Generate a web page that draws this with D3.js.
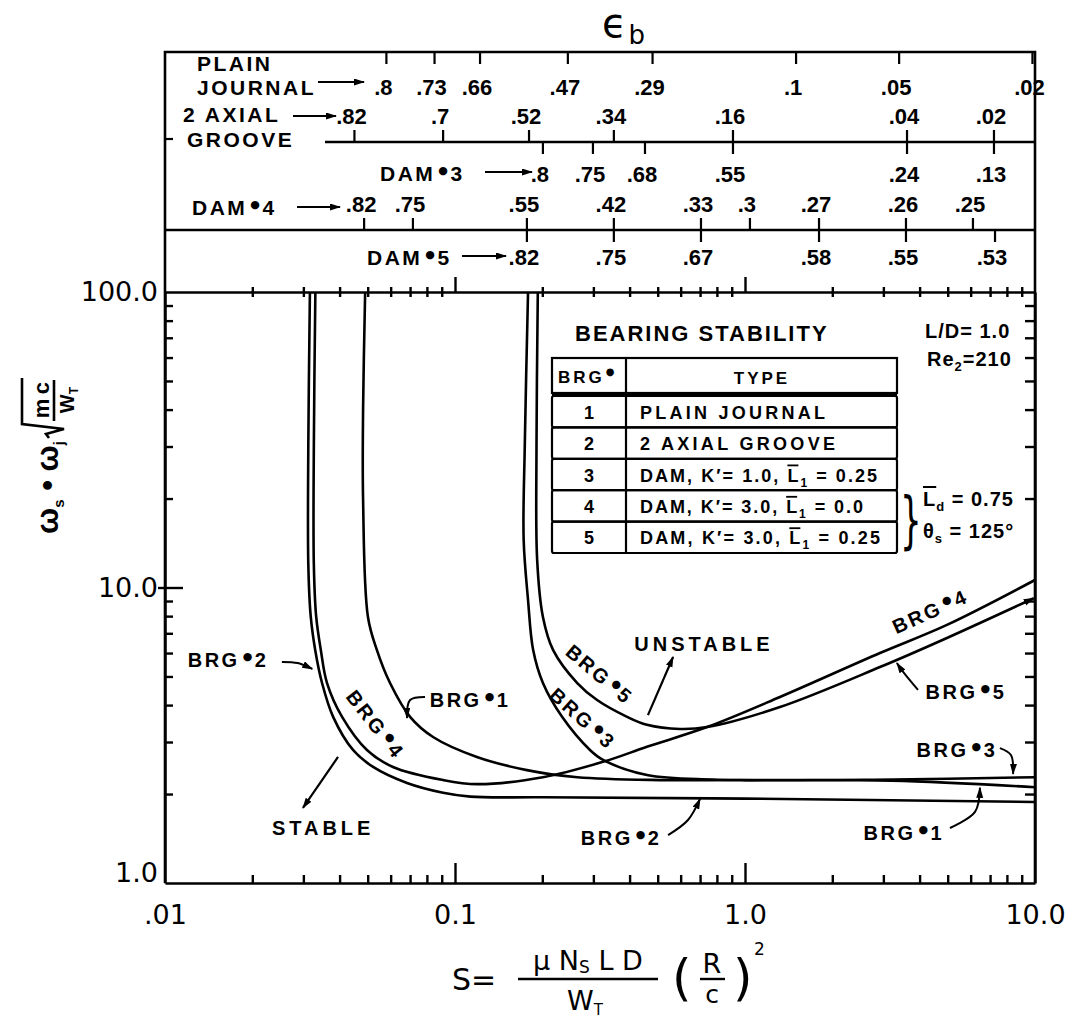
<!DOCTYPE html>
<html>
<head>
<meta charset="utf-8">
<script src="https://cdn.jsdelivr.net/npm/d3@7"></script>
<style>
  body { margin: 0; background: #fff; }
  svg { display: block; }
  .lab { font-family: "Liberation Sans", Arial, sans-serif; font-weight: bold; fill: #000; }
  .num { font-family: "DejaVu Sans", sans-serif; fill: #000; }
  .axis path, .axis line { stroke: #000; stroke-width: 2.4; }
  .axis text { font-family: "DejaVu Sans", sans-serif; font-size: 27px; fill: #000; }
</style>
</head>
<body>
<svg id="chart" width="1075" height="1022"></svg>
<script>
// ---- data ----
const xTickVals   = [0.01, 0.1, 1, 10];
const xTickLabels = [".01", "0.1", "1.0", "10.0"];
const yTickVals   = [1, 10, 100];
const yTickLabels = ["1.0", "10.0", "100.0"];

// S (Sommerfeld number) and threshold speed for each bearing
const brg1S = [0.049, 0.0482, 0.0482, 0.0501, 0.0538, 0.0597, 0.070, 0.084, 0.119, 0.177, 0.264, 0.509, 1.0, 3.2, 10];
const brg1W = [100, 40, 19.8, 7.95, 6.14, 4.75, 3.65, 3.12, 2.67, 2.41, 2.28, 2.23, 2.23, 2.22, 2.11];
const brg2S = [0.0316, 0.0312, 0.0312, 0.0318, 0.033, 0.0348, 0.038, 0.0445, 0.0522, 0.0683, 0.091, 0.113, 0.2, 1.0, 10];
const brg2W = [100, 30, 12, 8, 6.1, 4.75, 3.65, 2.82, 2.47, 2.18, 2.02, 1.96, 1.95, 1.93, 1.88];
const brg3S = [0.1786, 0.174, 0.1725, 0.1786, 0.186, 0.201, 0.234, 0.292, 0.324, 0.459, 0.776, 3.24, 10];
const brg3W = [100, 30, 14.5, 9.07, 6.14, 4.75, 3.65, 2.82, 2.61, 2.32, 2.24, 2.24, 2.28];
const brg4S = [0.033, 0.0326, 0.0326, 0.0332, 0.0345, 0.0362, 0.0408, 0.0497, 0.0611, 0.091, 0.119, 0.201, 0.324, 0.459, 0.74, 1.32, 2.92, 4.97, 10];
const brg4W = [100, 30, 12, 8, 6.1, 4.75, 3.65, 2.82, 2.47, 2.23, 2.16, 2.28, 2.57, 2.89, 3.37, 4.26, 6.0, 7.47, 10.6];
const brg5S = [0.193, 0.191, 0.192, 0.201, 0.218, 0.264, 0.309, 0.392, 0.459, 0.597, 0.74, 1.32, 2.92, 4.97, 9.9];
const brg5W = [100, 30, 12.4, 7.95, 6.14, 4.75, 4.16, 3.65, 3.43, 3.32, 3.37, 3.94, 5.38, 6.75, 9.2];

// eccentricity scales on top (label and the S where its tick sits)
const plainEps = [".8", ".73", ".66", ".47", ".29", ".1", ".05", ".02"];
const plainS   = [0.058, 0.085, 0.122, 0.245, 0.48, 1.5, 3.4, 9.8];
const axialEps = [".82", ".7", ".52", ".34", ".16", ".04", ".02"];
const axialS   = [0.045, 0.091, 0.18, 0.353, 0.909, 3.62, 7.22];
const dam3Eps  = [".8", ".75", ".68", ".55", ".24", ".13"];
const dam3S    = [0.201, 0.299, 0.452, 0.909, 3.62, 7.22];
const dam4Eps  = [".82", ".75", ".55", ".42", ".33", ".3", ".27", ".26", ".25"];
const dam4S    = [0.0486, 0.0716, 0.177, 0.353, 0.705, 1.04, 1.80, 3.59, 6.11];
const dam5Eps  = [".82", ".75", ".67", ".58", ".55", ".53"];
const dam5S    = [0.177, 0.353, 0.705, 1.80, 3.59, 7.28];

// table
const brgIds   = [1, 2, 3, 4, 5];
const brgTypes = ["PLAIN JOURNAL", "2 AXIAL GROOVE", "DAM, K\u2032= 1.0, L_1 = 0.25",
                  "DAM, K\u2032= 3.0, L_1 = 0.0", "DAM, K\u2032= 3.0, L_1 = 0.25"];
const typeWidths = [185, 195, 237, 223, 240];

// curve labels: [number, S, W, rotation]
const curveLabels = [
  [2, 0.0165, 5.68, 0], [4, 0.0509, 3.51, 52], [1, 0.1127, 4.16, 0],
  [5, 0.304, 5.14, 40], [3, 0.2656, 3.65, 42], [4, 4.45, 8.33, -24],
  [5, 5.78, 4.43, 0], [3, 5.38, 2.82, 0], [2, 0.374, 1.42, 0], [1, 3.53, 1.476, 0]
];
// leader lines, [S, W] from label to curve
const leaders = [
  [[0.0253, 5.6], [0.0287, 5.55], [0.0322, 5.3]],
  [[0.0788, 4.26], [0.070, 4.16], [0.0683, 3.62]],
  [[3.95, 4.5], [3.51, 5.18], [3.34, 5.55]],
  [[7.57, 2.86], [8.26, 2.71], [8.4, 2.34]],
  [[0.543, 1.453], [0.636, 1.634], [0.70, 1.925]],
  [[5.09, 1.535], [6.21, 1.74], [6.46, 2.10]]
];
const stableArrow   = [[0.0395, 2.67], [0.0299, 1.794]];
const unstableArrow = [[0.4627, 3.70], [0.565, 5.82]];

// ---- drawing ----
const svg = d3.select("#chart");
const pL = 165, pR = 1035, pT = 292, pB = 883, boxTop = 52;
const x = d3.scaleLog().domain([0.01, 10]).range([pL, pR]);
const y = d3.scaleLog().domain([1, 100]).range([pB, pT]);

const defs = svg.append("defs");
defs.append("marker").attr("id", "ah").attr("markerUnits", "userSpaceOnUse")
  .attr("markerWidth", 12).attr("markerHeight", 8).attr("refX", 10).attr("refY", 3.5)
  .attr("orient", "auto")
  .append("path").attr("d", "M0,0 L11,3.5 L0,7 z").attr("fill", "#000");

function raised(t, num, dot) {
  t.append("tspan").attr("dx", 3).attr("dy", -7).attr("font-family", "DejaVu Sans")
    .attr("font-size", dot || 11).text("\u25CF");
  t.append("tspan").attr("dy", 7).attr("dx", 0).text(num);
}

// frame
svg.append("path")
  .attr("d", `M${pL},${pB} L${pL},${boxTop} L${pR},${boxTop} L${pR},${pB}`)
  .attr("fill", "none").attr("stroke", "#000").attr("stroke-width", 2.6);

// axes
const minorX = x.ticks().filter(d => ![0.01, 0.1, 1, 10].includes(+d.toPrecision(3)));
const minorY = y.ticks().filter(d => ![1, 10, 100].includes(+d.toPrecision(3)));

function axisG(gen, tx, ty) {
  return svg.append("g").attr("class", "axis").attr("transform", `translate(${tx},${ty})`).call(gen);
}
// bottom
axisG(d3.axisBottom(x).tickValues(minorX).tickSize(-8).tickSizeOuter(0).tickFormat(""), 0, pB);
axisG(d3.axisBottom(x).tickValues([0.1, 1]).tickSize(-20).tickSizeOuter(0).tickFormat(""), 0, pB)
  .select(".domain").remove();
axisG(d3.axisBottom(x).tickValues(xTickVals).tickSize(0).tickPadding(22).tickFormat((d, i) => xTickLabels[i]), 0, pB)
  .select(".domain").remove();
// top
axisG(d3.axisTop(x).tickValues(minorX).tickSize(5).tickSizeOuter(0).tickFormat(""), 0, pT);
axisG(d3.axisTop(x).tickValues(minorX).tickSize(-5).tickSizeOuter(0).tickFormat(""), 0, pT).select(".domain").remove();
axisG(d3.axisTop(x).tickValues([0.1, 1]).tickSize(15).tickSizeOuter(0).tickFormat(""), 0, pT).select(".domain").remove();
// left
axisG(d3.axisLeft(y).tickValues(minorY).tickSize(-8).tickSizeOuter(0).tickFormat(""), pL, 0);
axisG(d3.axisLeft(y).tickValues([10]).tickSize(7).tickSizeOuter(0).tickFormat(""), pL, 0).select(".domain").remove();
axisG(d3.axisLeft(y).tickValues([10]).tickSize(-18).tickSizeOuter(0).tickFormat(""), pL, 0).select(".domain").remove();
const yl = axisG(d3.axisLeft(y).tickValues(yTickVals).tickSize(0).tickPadding(7).tickFormat((d, i) => yTickLabels[i]), pL, 0);
yl.select(".domain").remove();
yl.selectAll(".tick").filter(d => d === 1).select("text").attr("dy", "-0.05em");
// right
axisG(d3.axisRight(y).tickValues(minorY).tickSize(-10).tickSizeOuter(0).tickFormat(""), pR, 0);

// curves
const series = [
  {id: 1, S: brg1S, W: brg1W}, {id: 2, S: brg2S, W: brg2W}, {id: 3, S: brg3S, W: brg3W},
  {id: 4, S: brg4S, W: brg4W}, {id: 5, S: brg5S, W: brg5W}
];
const line = d3.line().x(d => x(d[0])).y(d => y(d[1])).curve(d3.curveCatmullRom.alpha(0.5));
svg.append("g").selectAll("path").data(series).join("path")
  .attr("d", s => line(s.S.map((v, i) => [v, s.W[i]])))
  .attr("fill", "none").attr("stroke", "#000").attr("stroke-width", 2.6)
  .attr("marker-end", s => s.id === 5 ? "url(#ah)" : null);

// curve labels
curveLabels.forEach(([n, s, w, r]) => {
  const t = svg.append("text").attr("class", "lab").attr("font-size", 20).attr("letter-spacing", 2.5)
    .attr("text-anchor", "middle")
    .attr("transform", `translate(${x(s)},${y(w) + 7}) rotate(${r})`);
  t.append("tspan").text("BRG");
  raised(t, n);
});
const leadLine = d3.line().x(d => x(d[0])).y(d => y(d[1])).curve(d3.curveCatmullRom.alpha(0.5));
svg.append("g").selectAll("path").data(leaders).join("path")
  .attr("d", leadLine).attr("fill", "none").attr("stroke", "#000").attr("stroke-width", 2)
  .attr("marker-end", "url(#ah)");
[stableArrow, unstableArrow].forEach(a => {
  svg.append("path").attr("d", d3.line().x(d => x(d[0])).y(d => y(d[1]))(a))
    .attr("fill", "none").attr("stroke", "#000").attr("stroke-width", 2.2).attr("marker-end", "url(#ah)");
});
svg.append("text").attr("class", "lab").attr("font-size", 20).attr("letter-spacing", 4)
  .attr("text-anchor", "middle").attr("x", x(0.0351)).attr("y", y(1.547) + 8).text("STABLE");
svg.append("text").attr("class", "lab").attr("font-size", 20).attr("letter-spacing", 4)
  .attr("text-anchor", "middle").attr("x", x(0.722)).attr("y", y(6.49) + 8).text("UNSTABLE");

// bearing stability table
svg.append("text").attr("class", "lab").attr("font-size", 22).attr("letter-spacing", 2)
  .attr("x", 575).attr("y", 341).text("BEARING STABILITY");
svg.append("text").attr("class", "lab").attr("font-size", 20).attr("letter-spacing", 1)
  .attr("x", 925).attr("y", 338).text("L/D= 1.0");
const re = svg.append("text").attr("class", "lab").attr("font-size", 20).attr("letter-spacing", 1)
  .attr("x", 927).attr("y", 366);
re.append("tspan").text("Re");
re.append("tspan").attr("dy", 5).attr("font-size", 13).text("2");
re.append("tspan").attr("dy", -5).text("=210");

const tbL = 552, tbR = 897, tbDiv = 626;
svg.append("rect").attr("x", tbL).attr("y", 358).attr("width", tbR - tbL).attr("height", 35)
  .attr("fill", "none").attr("stroke", "#000").attr("stroke-width", 2.2);
svg.append("line").attr("x1", tbDiv).attr("x2", tbDiv).attr("y1", 358).attr("y2", 393).attr("stroke", "#000").attr("stroke-width", 2.2);
svg.append("line").attr("x1", tbL).attr("x2", tbR).attr("y1", 394.5).attr("y2", 394.5).attr("stroke", "#000").attr("stroke-width", 4);
const hb = svg.append("text").attr("class", "lab").attr("font-size", 17).attr("letter-spacing", 3)
  .attr("x", 558).attr("y", 383);
hb.append("tspan").text("BRG");
hb.append("tspan").attr("dx", 1).attr("dy", -8).attr("font-family", "DejaVu Sans").attr("font-size", 10).text("\u25CF");
svg.append("text").attr("class", "lab").attr("font-size", 17).attr("letter-spacing", 3)
  .attr("text-anchor", "middle").attr("x", 762).attr("y", 384).text("TYPE");

const rowY = d3.scaleBand().domain(brgIds).range([396, 553]);
const rows = svg.append("g").selectAll("g").data(brgIds).join("g");
rows.append("rect").attr("x", tbL).attr("y", d => rowY(d)).attr("width", tbR - tbL).attr("height", rowY.bandwidth())
  .attr("rx", 2).attr("fill", "none").attr("stroke", "#000").attr("stroke-width", 2.2);
rows.append("line").attr("x1", tbDiv).attr("x2", tbDiv).attr("y1", d => rowY(d)).attr("y2", d => rowY(d) + rowY.bandwidth())
  .attr("stroke", "#000").attr("stroke-width", 2.2);
rows.append("text").attr("class", "lab").attr("font-size", 18).attr("text-anchor", "middle")
  .attr("x", (tbL + tbDiv) / 2).attr("y", d => rowY(d) + rowY.bandwidth() / 2 + 7).text(d => d);
rows.each(function (d, i) {
  const t = d3.select(this).append("text").attr("class", "lab").attr("font-size", 18)
    .attr("textLength", typeWidths[i]).attr("lengthAdjust", "spacing")
    .attr("x", 640).attr("y", rowY(d) + rowY.bandwidth() / 2 + 7);
  const parts = brgTypes[i].split("L_1");
  t.append("tspan").text(parts[0]);
  if (parts.length > 1) {
    t.append("tspan").style("text-decoration", "overline").text("L");
    t.append("tspan").attr("dy", 5).attr("font-size", 12).text("1");
    t.append("tspan").attr("dy", -5).text(parts[1]);
  }
});
svg.append("text").attr("class", "num").attr("font-size", 62).attr("font-weight", "normal")
  .attr("x", 900).attr("y", 541).attr("transform", "translate(900,541) scale(0.55,1) translate(-900,-541)").text("}");
const ld = svg.append("text").attr("class", "lab").attr("font-size", 20).attr("letter-spacing", 1).attr("x", 923).attr("y", 506);
ld.append("tspan").style("text-decoration", "overline").text("L");
ld.append("tspan").attr("dy", 5).attr("font-size", 13).text("d");
ld.append("tspan").attr("dy", -5).text(" = 0.75");
const th = svg.append("text").attr("class", "lab").attr("font-size", 20).attr("letter-spacing", 1).attr("x", 923).attr("y", 538);
th.append("tspan").text("\u03B8");
th.append("tspan").attr("dy", 5).attr("font-size", 13).text("s");
th.append("tspan").attr("dy", -5).text(" = 125\u00B0");

// eccentricity header
const hdr = {groove: 142, dam4: 230, tick: 12};
svg.append("line").attr("x1", 325).attr("x2", pR).attr("y1", hdr.groove).attr("y2", hdr.groove).attr("stroke", "#000").attr("stroke-width", 2.6);
svg.append("line").attr("x1", pL).attr("x2", pR).attr("y1", hdr.dam4).attr("y2", hdr.dam4).attr("stroke", "#000").attr("stroke-width", 2.6);
svg.append("line").attr("x1", pL).attr("x2", pL + 8).attr("y1", 139).attr("y2", 139).attr("stroke", "#000").attr("stroke-width", 2.2);

function scaleRow(vals, labs, y0, dir, labY) {
  const g = svg.append("g");
  g.selectAll("line").data(vals).join("line")
    .attr("x1", d => x(d)).attr("x2", d => x(d)).attr("y1", y0).attr("y2", y0 + dir * hdr.tick)
    .attr("stroke", "#000").attr("stroke-width", 2.2);
  g.selectAll("text").data(labs).join("text").attr("class", "lab").attr("font-size", 22)
    .attr("text-anchor", "middle").attr("x", (d, i) => x(vals[i]) - 3).attr("y", labY).text(d => d);
}
scaleRow(plainS, plainEps, boxTop, 1, 95);
scaleRow(axialS, axialEps, hdr.groove, -1, 124);
scaleRow(dam3S, dam3Eps, hdr.groove, 1, 182);
scaleRow(dam4S, dam4Eps, hdr.dam4, -1, 212);
scaleRow(dam5S, dam5Eps, hdr.dam4, 1, 265);

function rowName(txt, tx, ty) {
  return svg.append("text").attr("class", "lab").attr("font-size", 21).attr("letter-spacing", 2.5)
    .attr("x", tx).attr("y", ty).text(txt);
}
function hArrow(x1, x2, yy) {
  svg.append("line").attr("x1", x1).attr("x2", x2).attr("y1", yy).attr("y2", yy)
    .attr("stroke", "#000").attr("stroke-width", 2.2).attr("marker-end", "url(#ah)");
}
rowName("PLAIN", 197, 71);
rowName("JOURNAL", 197, 95);
hArrow(318, 364, 82);
rowName("2 AXIAL", 183, 122);
hArrow(293, 336, 116);
rowName("GROOVE", 187, 147);
const d3t = rowName("DAM", 380, 181); raised(d3t, "3");
hArrow(485, 532, 172);
const d4t = rowName("DAM", 192, 215); raised(d4t, "4");
hArrow(297, 340, 207);
const d5t = rowName("DAM", 367, 265); raised(d5t, "5");
hArrow(462, 506, 256);

const eps = svg.append("text").attr("class", "num").attr("x", 602).attr("y", 37);
eps.append("tspan").attr("font-size", 40).text("\u03F5");
eps.append("tspan").attr("font-size", 26).attr("dy", 7).attr("dx", 2).text("b");

// y title (rotated)
const yt = svg.append("g").attr("transform", "translate(58,452) rotate(-90)");
const ytt = yt.append("text").attr("class", "lab").attr("font-family", "DejaVu Sans").attr("font-size", 31).attr("x", -82).attr("y", 0);
ytt.append("tspan").text("\u03C9");
ytt.append("tspan").attr("font-size", 15).attr("dy", 6).text("s");
ytt.append("tspan").attr("dy", -6).text(" \u2022 \u03C9");
ytt.append("tspan").attr("font-size", 15).attr("dy", 6).text("j");
const tl = ytt.node().getComputedTextLength();
const rx0 = -82 + tl + 3, fw = 46;
yt.append("path").attr("d", `M${rx0},-9 L${rx0 + 4},-12 L${rx0 + 9},6 L${rx0 + 14},-36 L${rx0 + 14 + fw},-36`)
  .attr("fill", "none").attr("stroke", "#000").attr("stroke-width", 2.6);
yt.append("line").attr("x1", rx0 + 17).attr("x2", rx0 + 12 + fw).attr("y1", -4).attr("y2", -4).attr("stroke", "#000").attr("stroke-width", 2.6);
yt.append("text").attr("class", "lab").attr("font-family", "DejaVu Sans").attr("font-size", 22)
  .attr("text-anchor", "middle").attr("x", rx0 + 15 + fw / 2).attr("y", -9).text("m\u2009c");
const wt = yt.append("text").attr("class", "lab").attr("font-family", "DejaVu Sans").attr("font-size", 20)
  .attr("text-anchor", "middle").attr("x", rx0 + 15 + fw / 2).attr("y", 16);
wt.append("tspan").text("W");
wt.append("tspan").attr("font-size", 12).attr("dy", 4).text("T");

// x title: S = mu Ns L D / W_T (R/c)^2
const f = svg.append("g").attr("class", "num");
f.append("text").attr("x", 452).attr("y", 990).attr("font-size", 30).text("S=");
const numr = f.append("text").attr("x", 588).attr("y", 970).attr("font-size", 27).attr("text-anchor", "middle");
numr.append("tspan").text("\u03BC N");
numr.append("tspan").attr("font-size", 17).attr("dy", 3).text("S");
numr.append("tspan").attr("dy", -3).text(" L D");
f.append("line").attr("x1", 518).attr("x2", 658).attr("y1", 979).attr("y2", 979).attr("stroke", "#000").attr("stroke-width", 2.4);
const den = f.append("text").attr("x", 585).attr("y", 1010).attr("font-size", 27).attr("text-anchor", "middle");
den.append("tspan").text("W");
den.append("tspan").attr("font-size", 15).attr("dy", 5).text("T");
f.append("text").attr("x", 672).attr("y", 995).attr("font-size", 50).attr("font-weight", "normal").text("(");
f.append("text").attr("x", 733).attr("y", 995).attr("font-size", 50).attr("font-weight", "normal").text(")");
f.append("text").attr("x", 712).attr("y", 973).attr("font-size", 27).attr("text-anchor", "middle").text("R");
f.append("line").attr("x1", 700).attr("x2", 725).attr("y1", 979).attr("y2", 979).attr("stroke", "#000").attr("stroke-width", 2.4);
f.append("text").attr("x", 712).attr("y", 1003).attr("font-size", 25).attr("text-anchor", "middle").text("c");
f.append("text").attr("x", 754).attr("y", 955).attr("font-size", 17).text("2");
</script>
</body>
</html>
